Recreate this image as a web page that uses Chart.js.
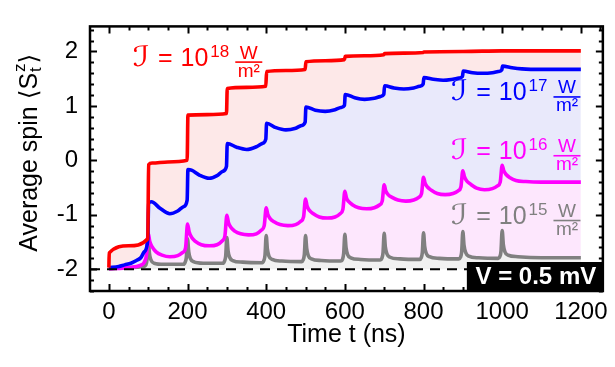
<!DOCTYPE html>
<html>
<head>
<meta charset="utf-8">
<script src="https://cdn.jsdelivr.net/npm/chart.js@4.4.0/dist/chart.umd.min.js"></script>
<style>
  html, body { margin: 0; padding: 0; background: #fff; }
</style>
</head>
<body>
<canvas id="spinChart" width="615" height="367"></canvas>
<script>
const FONT = "'Liberation Sans', Arial, 'DejaVu Sans', sans-serif";

const xTicks = [0, 200, 400, 600, 800, 1000, 1200];
const yTicks = [-2, -1, 0, 1, 2];
const xRange = [-48, 1256];
const yRange = [-2.4, 2.46];

// I = 1e18 W/m^2
const redTimes = [0, 1, 50, 99, 101, 110, 150, 199, 201, 250, 299, 301, 350, 399, 401, 450, 499,
  501, 550, 599, 601, 650, 699, 701, 750, 799, 801, 899, 901, 999, 1001, 1200];
const redSpin = [-1.97, -1.70, -1.57, -1.44, -0.08, -0.05, -0.03, 0.00, 0.83, 0.84, 0.86, 1.32, 1.34, 1.36, 1.63, 1.65, 1.67,
  1.81, 1.83, 1.85, 1.91, 1.92, 1.94, 1.96, 1.97, 1.98, 1.99, 2.00, 2.00, 2.01, 2.01, 2.01];

// I = 1e17 W/m^2
const blueTimes = [0, 25, 40, 56, 70, 81, 90, 99,
  101, 108, 130, 155, 175, 190, 199,
  201, 210, 230, 255, 275, 290, 299,
  301, 325, 350, 375, 390, 399,
  401, 425, 450, 475, 490, 499,
  501, 525, 550, 575, 590, 599,
  601, 625, 650, 675, 690, 699,
  701, 725, 750, 775, 790, 799,
  801, 825, 850, 875, 890, 899,
  901, 925, 950, 975, 990, 999,
  1001, 1025, 1050, 1100, 1200];
const blueSpin = [-1.97, -1.95, -1.92, -1.89, -1.84, -1.79, -1.68, -1.45,
  -0.78, -0.76, -0.88, -0.98, -0.93, -0.85, -0.73,
  -0.17, -0.18, -0.27, -0.33, -0.28, -0.20, -0.11,
  0.31, 0.24, 0.20, 0.25, 0.31, 0.39,
  0.68, 0.60, 0.56, 0.59, 0.64, 0.70,
  0.98, 0.92, 0.90, 0.93, 0.97, 1.01,
  1.21, 1.15, 1.12, 1.14, 1.17, 1.21,
  1.37, 1.33, 1.31, 1.33, 1.36, 1.40,
  1.52, 1.49, 1.47, 1.49, 1.51, 1.54,
  1.64, 1.61, 1.60, 1.61, 1.63, 1.66,
  1.73, 1.70, 1.68, 1.67, 1.67];

// I = 1e16 W/m^2
const magentaTimes = [0, 50, 80, 90, 96, 100,
  104, 110, 120, 135, 155, 175, 188, 195, 200,
  204, 210, 220, 235, 255, 275, 288, 295, 300,
  304, 310, 320, 335, 355, 375, 388, 395, 400,
  404, 410, 420, 435, 455, 475, 488, 495, 500,
  504, 510, 520, 535, 555, 575, 588, 595, 600,
  604, 610, 620, 635, 655, 675, 688, 695, 700,
  704, 710, 720, 735, 755, 775, 788, 795, 800,
  804, 810, 820, 835, 855, 875, 888, 895, 900,
  904, 910, 920, 935, 955, 975, 988, 995, 1000,
  1004, 1010, 1020, 1035, 1060, 1100, 1200];
const magentaSpin = [-1.99, -1.97, -1.93, -1.87, -1.72, -1.34,
  -1.49, -1.59, -1.68, -1.74, -1.77, -1.75, -1.69, -1.61, -1.17,
  -1.31, -1.41, -1.49, -1.55, -1.57, -1.55, -1.48, -1.39, -1.01,
  -1.14, -1.23, -1.30, -1.35, -1.37, -1.35, -1.28, -1.20, -0.87,
  -0.99, -1.07, -1.13, -1.18, -1.20, -1.18, -1.12, -1.04, -0.71,
  -0.84, -0.92, -0.98, -1.04, -1.06, -1.04, -0.98, -0.90, -0.57,
  -0.69, -0.76, -0.82, -0.87, -0.89, -0.87, -0.82, -0.75, -0.45,
  -0.56, -0.63, -0.68, -0.73, -0.75, -0.73, -0.68, -0.61, -0.31,
  -0.42, -0.49, -0.55, -0.61, -0.63, -0.61, -0.56, -0.49, -0.19,
  -0.30, -0.38, -0.44, -0.51, -0.54, -0.52, -0.47, -0.40, -0.09,
  -0.19, -0.26, -0.32, -0.37, -0.39, -0.40, -0.40];

// I = 1e15 W/m^2
const grayTimes = [0, 50, 88, 94, 97, 100, 103, 107, 115, 140, 190,
  194, 197, 200, 203, 207, 215, 240, 290,
  294, 297, 300, 303, 307, 315, 340, 390,
  394, 397, 400, 403, 407, 415, 440, 490,
  494, 497, 500, 503, 507, 515, 540, 590,
  594, 597, 600, 603, 607, 615, 640, 690,
  694, 697, 700, 703, 707, 715, 740, 790,
  794, 797, 800, 803, 807, 815, 840, 890,
  894, 897, 900, 903, 907, 915, 940, 990,
  994, 997, 1000, 1003, 1007, 1015, 1040, 1100, 1200];
const graySpin = [-1.99, -1.97, -1.95, -1.92, -1.82, -1.40, -1.70, -1.83, -1.89, -1.91, -1.91,
  -1.87, -1.78, -1.44, -1.68, -1.80, -1.86, -1.89, -1.89,
  -1.85, -1.76, -1.42, -1.66, -1.78, -1.84, -1.87, -1.88,
  -1.84, -1.74, -1.38, -1.63, -1.76, -1.82, -1.85, -1.86,
  -1.83, -1.73, -1.38, -1.62, -1.75, -1.81, -1.84, -1.85,
  -1.82, -1.71, -1.36, -1.60, -1.73, -1.79, -1.82, -1.83,
  -1.80, -1.70, -1.34, -1.59, -1.72, -1.78, -1.81, -1.82,
  -1.79, -1.69, -1.33, -1.58, -1.71, -1.77, -1.80, -1.81,
  -1.78, -1.68, -1.31, -1.56, -1.69, -1.76, -1.79, -1.80,
  -1.77, -1.67, -1.29, -1.55, -1.68, -1.74, -1.77, -1.79, -1.79];

// ground state reference
const groundSpin = -2;

// intensity labels: [exponent, t, spin at baseline, colour]
const intensityLabels = [
  ["18", 61, 1.74, "#ff0000"],
  ["17", 870, 1.10, "#0000ff"],
  ["16", 870, 0.02, "#ff00ff"],
  ["15", 870, -1.17, "#808080"],
];

function toPoints(times, values) {
  return times.map((t, i) => ({ x: t, y: values[i] }));
}

function curve(times, values, color, fillColor, fillTarget) {
  return {
    data: toPoints(times, values),
    borderColor: color,
    borderWidth: 3.6,
    pointRadius: 0,
    cubicInterpolationMode: "monotone",
    fill: { target: fillTarget, above: fillColor, below: fillColor },
    backgroundColor: fillColor,
  };
}

// frame, inward ticks on all four sides, axis titles and annotations
const framePlugin = {
  id: "frame",
  afterDraw(chart) {
    const ctx = chart.ctx;
    const { left, right, top, bottom } = chart.chartArea;
    const xs = chart.scales.x;
    const ys = chart.scales.y;
    ctx.save();

    // intensity labels: I = 10^n W/m^2
    intensityLabels.forEach(([exp, t, s, color]) => {
      let x = xs.getPixelForValue(t);
      const b = ys.getPixelForValue(s);
      ctx.fillStyle = color;
      ctx.strokeStyle = color;
      ctx.textBaseline = "alphabetic";
      ctx.textAlign = "left";
      ctx.save();
      ctx.translate(x, b);
      ctx.scale(1.3, 1);
      ctx.font = "28px 'DejaVu Sans', sans-serif";
      ctx.fillText("\u2110", 0, 0);
      x += ctx.measureText("\u2110").width * 1.3 + 8;
      ctx.restore();
      ctx.font = "25px " + FONT;
      ctx.fillText("=", x, b);
      x += ctx.measureText("=").width + 8;
      ctx.fillText("10", x, b);
      x += ctx.measureText("10").width + 2;
      ctx.font = "17px " + FONT;
      ctx.fillText(exp, x, b - 9);
      x += ctx.measureText(exp).width + 6;
      ctx.font = "19px " + FONT;
      const w = 27;
      ctx.textAlign = "center";
      ctx.fillText("W", x + w / 2, b - 7);
      ctx.fillText("m\u00b2", x + w / 2, b + 11);
      ctx.lineWidth = 1.6;
      ctx.beginPath();
      ctx.moveTo(x, b - 3.5);
      ctx.lineTo(x + w, b - 3.5);
      ctx.stroke();
    });

    // voltage box
    ctx.fillStyle = "#000";
    ctx.fillRect(right - 136, bottom - 29, 136, 29);
    ctx.fillStyle = "#fff";
    ctx.font = "bold 24px " + FONT;
    ctx.textAlign = "center";
    ctx.textBaseline = "middle";
    ctx.fillText("V = 0.5 mV", right - 67, bottom - 13.5);

    // frame
    ctx.strokeStyle = "#000";
    ctx.lineWidth = 2.5;
    ctx.strokeRect(left, top, right - left, bottom - top);

    // ticks
    ctx.lineWidth = 2;
    ctx.beginPath();
    for (let v = 0; v <= xRange[1]; v += 50) {
      const px = Math.round(xs.getPixelForValue(v)) + 0.5;
      const len = v % 200 === 0 ? 7 : 4;
      ctx.moveTo(px, bottom); ctx.lineTo(px, bottom - len);
      ctx.moveTo(px, top); ctx.lineTo(px, top + len);
    }
    for (let k = -12; k <= 12; k++) {
      const py = Math.round(ys.getPixelForValue(k * 0.2)) + 0.5;
      const len = k % 5 === 0 ? 7 : 4;
      ctx.moveTo(left, py); ctx.lineTo(left + len, py);
      ctx.moveTo(right, py); ctx.lineTo(right - len, py);
    }
    ctx.stroke();

    // x title
    ctx.fillStyle = "#000";
    ctx.font = "25px " + FONT;
    ctx.textAlign = "center";
    ctx.textBaseline = "alphabetic";
    ctx.fillText("Time t (ns)", (left + right) / 2, 342);

    // y title: Average spin <S_t^z>
    ctx.translate(37, (top + bottom) / 2 - 6);
    ctx.rotate(-Math.PI / 2);
    const big = "25px " + FONT;
    const small = "17px " + FONT;
    const bracket = "25px 'DejaVu Sans', sans-serif";
    const parts = [
      ["Average spin ", big],
      ["\u27e8", bracket],
      ["S", big],
    ];
    ctx.textAlign = "left";
    let total = 0;
    parts.forEach(([s, f]) => { ctx.font = f; total += ctx.measureText(s).width; });
    ctx.font = small;
    const subW = ctx.measureText("z").width + 1;
    ctx.font = bracket;
    total += subW + ctx.measureText("\u27e9").width;
    let x = -total / 2;
    parts.forEach(([s, f]) => {
      ctx.font = f;
      ctx.fillText(s, x, 0);
      x += ctx.measureText(s).width;
    });
    ctx.font = small;
    ctx.fillText("t", x + 1, 4);
    ctx.fillText("z", x + 1, -12);
    x += subW;
    ctx.font = bracket;
    ctx.fillText("\u27e9", x, 0);

    ctx.restore();
  },
};

const ctx = document.getElementById("spinChart").getContext("2d");
// eslint-disable-next-line no-undef
const spinChart = new Chart(ctx, {
  type: "line",
  data: {
    datasets: [
      {
        data: [{ x: xRange[0], y: groundSpin }, { x: xRange[1], y: groundSpin }],
        borderColor: "#000",
        borderWidth: 2,
        borderDash: [10, 7],
        pointRadius: 0,
        fill: false,
      },
      curve(redTimes, redSpin, "#ff0000", "#fde8e8", "+1"),
      curve(blueTimes, blueSpin, "#0000ff", "#e9e9fb", "+1"),
      curve(magentaTimes, magentaSpin, "#ff00ff", "#fde7fd", "+1"),
      curve(grayTimes, graySpin, "#808080", "#f1f1f1", { value: groundSpin }),
    ],
  },
  options: {
    responsive: false,
    devicePixelRatio: 1,
    animation: false,
    layout: { padding: { top: 2, right: 11, left: 0, bottom: 0 } },
    plugins: {
      legend: { display: false },
      tooltip: { enabled: false },
      filler: { drawTime: "beforeDatasetsDraw" },
    },
    scales: {
      x: {
        type: "linear",
        min: xRange[0],
        max: xRange[1],
        afterBuildTicks: (scale) => { scale.ticks = xTicks.map((v) => ({ value: v })); },
        afterFit: (scale) => { scale.height = 76; },
        grid: { display: false, drawTicks: false },
        border: { display: false },
        ticks: {
          color: "#000",
          font: { family: FONT, size: 24 },
          padding: 7,
          maxRotation: 0,
          callback: (v) => String(v),
        },
      },
      y: {
        type: "linear",
        min: yRange[0],
        max: yRange[1],
        afterBuildTicks: (scale) => { scale.ticks = yTicks.map((v) => ({ value: v })); },
        afterFit: (scale) => { scale.width = 90; },
        grid: { display: false, drawTicks: false },
        border: { display: false },
        ticks: {
          color: "#000",
          font: { family: FONT, size: 24 },
          padding: 12,
          callback: (v) => String(v),
        },
      },
    },
  },
  plugins: [framePlugin],
});
</script>
</body>
</html>
